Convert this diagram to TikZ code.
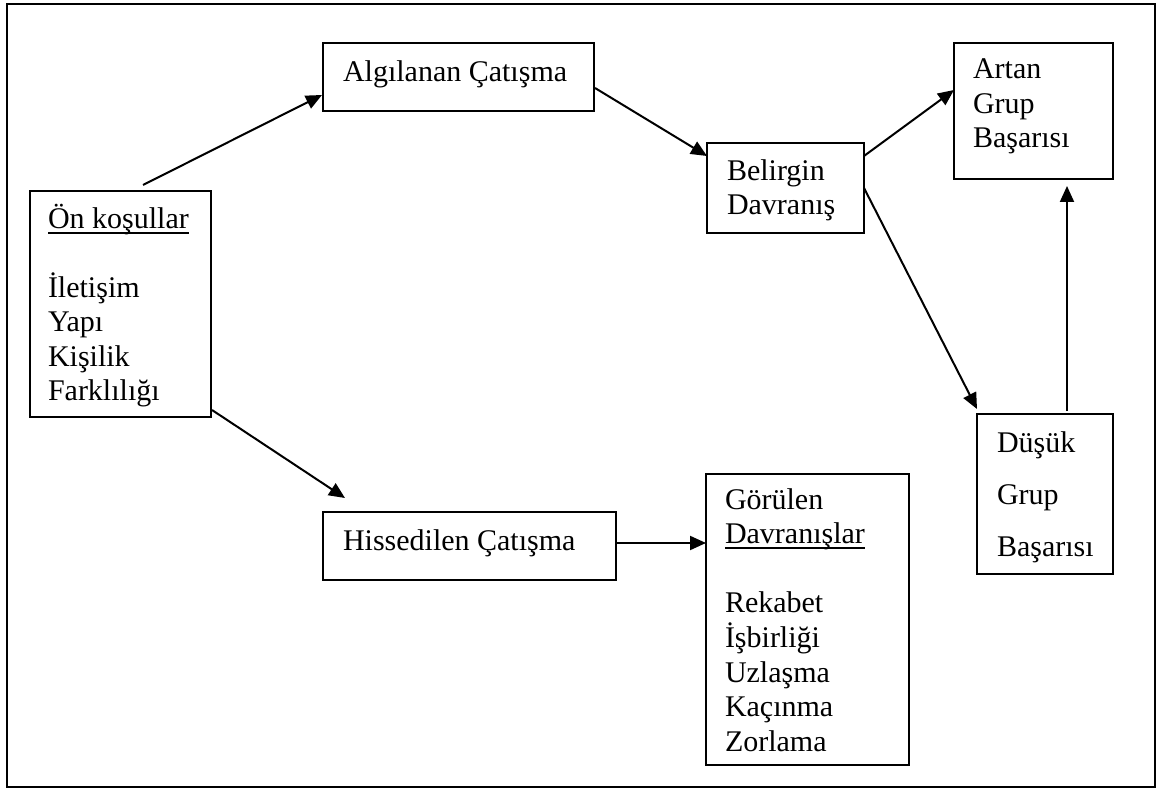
\documentclass[tikz,border=0pt]{standalone}
\usepackage{fontspec}
\setmainfont{Liberation Serif}
\usetikzlibrary{arrows.meta,calc}

% underlined heading with a rule just below the baseline
\newsavebox\undbox
\newcommand\undertext[1]{\sbox\undbox{#1}\rlap{\rule[-2.2pt]{\wd\undbox}{0.8pt}}\usebox\undbox}

\begin{document}
\begin{tikzpicture}[x=0.4pt,y=-0.4pt,
  every node/.style={inner sep=0pt, outer sep=0pt},
  box/.style={draw, line width=0.9pt, rectangle, anchor=north west},
  % base anchor of a multi-line text sits on its last line
  txt/.style={anchor=base west, align=left, font=\fontsize{12pt}{13.8pt}\selectfont},
  link/.style={line width=0.8pt, -{Triangle[length=6.4pt,width=5.6pt]}}]
\useasboundingbox (0,0) rectangle (1160,791);

% outer frame
\draw[line width=0.9pt] (7,4) rectangle (1155,787);

% boxes
\node[box, minimum width=72.4pt,  minimum height=90.4pt]  (pre) at (30,191) {};
\node[box, minimum width=108.4pt, minimum height=27.2pt]  (alg) at (323,43) {};
\node[box, minimum width=62.8pt,  minimum height=36pt]    (bel) at (707,143) {};
\node[box, minimum width=63.6pt,  minimum height=54.4pt]  (art) at (954,43) {};
\node[box, minimum width=54.4pt,  minimum height=64pt]    (dus) at (977,414) {};
\node[box, minimum width=117.2pt, minimum height=27.2pt]  (his) at (323,512) {};
\node[box, minimum width=81.2pt,  minimum height=116.4pt] (gor) at (706,474) {};

% texts
\node[txt] (pretxt) at (48,401) {\undertext{Ön koşullar}\\[13.8pt]İletişim\\Yapı\\Kişilik\\Farklılığı};
\node[txt] (algtxt) at (343,82) {Algılanan Çatışma};
\node[txt] (beltxt) at (727,215) {Belirgin\\Davranış};
\node[txt] (arttxt) at (973,148) {Artan\\Grup\\Başarısı};
\node[txt, font=\fontsize{12pt}{20.6pt}\selectfont] (dustxt) at (997,556) {Düşük\\Grup\\Başarısı};
\node[txt] (histxt) at (343,550) {Hissedilen Çatışma};
\node[txt] (gortxt) at (725,751) {Görülen\\\undertext{Davranışlar}\\[13.8pt]Rekabet\\İşbirliği\\Uzlaşma\\Kaçınma\\Zorlama};

% connectors
\draw[link] ($(pre.north west)+(113,-6)$) -- ($(alg.north west)+(-1,52)$);
\draw[link] ($(alg.north east)+(1,45)$) -- ($(bel.north west)+(0,13)$);
\draw[link] ($(bel.north east)+(0,13)$) -- ($(art.north west)+(0,47)$);
\draw[link] ($(bel.north east)+(0,45)$) -- ($(dus.north west)+(0,-5)$);
\draw[link] ($(dus.north west)+(90,-3)$) -- ($(art.south west)+(113,7)$);
\draw[link] ($(pre.south east)+(1,-7)$) -- ($(his.north west)+(22,-14)$);
\draw[link] ($(his.north east)+(0,31)$) -- ($(gor.north west)+(0,69)$);
\end{tikzpicture}
\end{document}
